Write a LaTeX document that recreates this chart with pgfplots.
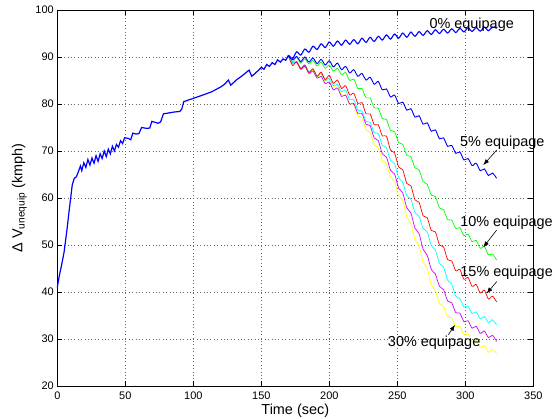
\documentclass[border=0pt]{standalone}
\usepackage{fontspec}
\setmainfont{Liberation Sans}
\usepackage{pgfplots}
\pgfplotsset{compat=1.18}
\usetikzlibrary{arrows.meta}
\definecolor{mblue}{rgb}{0,0,1}
\definecolor{mgreen}{rgb}{0,1,0}
\definecolor{mred}{rgb}{1,0,0}
\definecolor{mcyan}{rgb}{0,1,1}
\definecolor{mmag}{rgb}{0.8,0,1}
\definecolor{myel}{rgb}{1,1,0}
\begin{document}
\begin{tikzpicture}
\useasboundingbox (-57.3bp,-33bp) rectangle (497.7bp,386bp);
\begin{axis}[
  scale only axis, width=476bp, height=376bp,
  xmin=0, xmax=350, ymin=20, ymax=100,
  xtick={0,50,...,350}, ytick={20,30,...,100},
  grid=major,
  major grid style={black!60, line width=0.5bp, dash pattern=on 0.8bp off 2.6bp},
  tick align=inside, major tick length=5bp,
  tick style={black, line width=0.6bp},
  axis line style={black, line width=1bp},
  /pgf/number format/assume math mode=true,
  ticklabel style={font=\fontsize{11}{13}\selectfont},
  xticklabel style={yshift=-2bp},
  xlabel={Time (sec)}, 
  ylabel={Δ V\textsubscript{unequip} (kmph)},
  label style={font=\fontsize{14.5}{17}\selectfont},
  xlabel style={at={(axis description cs:0.5,-0.0771)}, anchor=base},
  ylabel style={at={(axis description cs:-0.0735,0.5)}, anchor=base},
  clip=false,
]
% 30%
\addplot[myel, line width=0.7bp, smooth, tension=0.45] coordinates {
(170,90.2) (173,88.6) (176,88.7) (179,87.3) (182,87.9) (185,86.5) (188,87.2) (191,85.8) (194,86.4) (197,84.8) (200,85.3) (203,83.6) (206,84.0) (209,81.9) (212,81.9) (215,79.8) (218,79.8) (221,77.4) (224,77.0) (227,74.5) (230,74.0) (233,71.3) (236,70.7) (239,68.0) (242,67.3) (245,64.4) (248,63.5) (251,60.5) (254,59.5) (257,56.0) (260,54.5) (263,51.1) (266,49.8) (269,46.4) (272,45.0) (275,41.6) (278,40.3) (281,37.6) (284,36.9) (287,34.7) (290,34.5) (293,32.6) (296,32.7) (299,30.9) (302,31.1) (305,29.4) (308,29.7) (311,28.2) (314,28.6) (317,27.2) (320,27.8) (323,26.9)
};
% 25%
\addplot[mmag, line width=0.7bp, smooth, tension=0.45] coordinates {
(170,90.2) (173,88.7) (176,88.9) (179,87.4) (182,88.0) (185,86.5) (188,87.0) (191,85.5) (194,85.9) (197,84.3) (200,84.7) (203,83.0) (206,83.4) (209,81.6) (212,81.9) (215,80.0) (218,80.1) (221,78.0) (224,78.0) (227,75.7) (230,75.4) (233,72.8) (236,72.2) (239,69.4) (242,68.7) (245,65.9) (248,65.1) (251,62.1) (254,61.1) (257,57.9) (260,56.8) (263,53.6) (266,52.4) (269,49.1) (272,47.8) (275,44.8) (278,43.8) (281,41.2) (284,40.5) (287,38.1) (290,37.7) (293,35.6) (296,35.5) (299,33.7) (302,33.9) (305,32.3) (308,32.7) (311,31.2) (314,31.7) (317,30.3) (320,30.8) (323,29.5)
};
% 20%
\addplot[mcyan, line width=0.7bp, smooth, tension=0.45] coordinates {
(170,90.2) (173,88.8) (176,89.1) (179,87.7) (182,88.3) (185,86.9) (188,87.4) (191,85.9) (194,86.5) (197,85.0) (200,85.5) (203,83.9) (206,84.2) (209,82.6) (212,83.0) (215,80.9) (218,80.9) (221,78.7) (224,78.5) (227,76.3) (230,76.1) (233,73.9) (236,73.7) (239,71.2) (242,70.7) (245,68.0) (248,67.3) (251,64.3) (254,63.3) (257,60.5) (260,59.7) (263,56.9) (266,56.1) (269,53.5) (272,52.8) (275,49.9) (278,48.9) (281,46.1) (284,45.3) (287,42.5) (290,41.7) (293,39.1) (296,38.6) (299,36.8) (302,37.0) (305,35.4) (308,35.8) (311,34.3) (314,34.8) (317,33.5) (320,34.1) (323,33.0)
};
% 15%
\addplot[mred, line width=0.7bp, smooth, tension=0.45] coordinates {
(170,90.2) (173,88.2) (176,89.0) (179,87.5) (182,88.3) (185,86.7) (188,87.5) (191,85.9) (194,86.8) (197,85.2) (200,86.1) (203,84.4) (206,85.1) (209,83.3) (212,83.9) (215,81.9) (218,82.3) (221,80.1) (224,80.3) (227,77.9) (230,77.9) (233,75.6) (236,75.6) (239,73.2) (242,73.2) (245,70.2) (248,69.6) (251,66.6) (254,66.0) (257,63.1) (260,62.6) (263,59.6) (266,59.1) (269,56.2) (272,55.8) (275,53.1) (278,52.8) (281,50.0) (284,49.6) (287,46.9) (290,46.6) (293,44.5) (296,44.8) (299,42.7) (302,43.1) (305,41.2) (308,41.6) (311,39.8) (314,40.4) (317,38.5) (320,39.1) (323,37.9)
};
% 10%
\addplot[mgreen, line width=0.7bp, smooth, tension=0.45] coordinates {
(170,90.2) (173,89.0) (176,89.9) (179,88.7) (182,89.6) (185,88.5) (188,89.3) (191,88.1) (194,88.9) (197,87.6) (200,88.3) (203,87.0) (206,87.6) (209,86.2) (212,86.7) (215,85.0) (218,85.3) (221,83.3) (224,83.3) (227,81.3) (230,81.3) (233,79.2) (236,79.1) (239,76.9) (242,76.7) (245,74.4) (248,74.1) (251,71.8) (254,71.4) (257,69.1) (260,68.8) (263,66.4) (266,66.0) (269,63.5) (272,62.9) (275,60.6) (278,60.3) (281,57.9) (284,57.5) (287,55.4) (290,55.3) (293,53.5) (296,53.7) (299,52.0) (302,52.3) (305,50.7) (308,51.0) (311,49.3) (314,49.7) (317,47.9) (320,48.1) (323,46.8)
};
% 5%
\addplot[mblue, line width=0.9bp, smooth, tension=0.45] coordinates {
(170,90.2) (173,89.4) (176,90.1) (179,89.0) (182,90.0) (185,88.9) (188,89.8) (191,88.6) (194,89.5) (197,88.3) (200,89.2) (203,87.9) (206,88.7) (209,87.3) (212,88.0) (215,86.6) (218,87.3) (221,85.9) (224,86.5) (227,85.1) (230,85.7) (233,84.2) (236,84.8) (239,83.0) (242,83.2) (245,81.5) (248,81.9) (251,80.1) (254,80.4) (257,78.7) (260,79.0) (263,77.2) (266,77.5) (269,75.7) (272,76.0) (275,74.2) (278,74.5) (281,72.6) (284,72.8) (287,71.0) (290,71.2) (293,69.5) (296,69.8) (299,68.1) (302,68.4) (305,66.9) (308,67.4) (311,65.8) (314,66.2) (317,64.8) (320,65.3) (323,64.2)
};
% common part (shared by all runs)
\addplot[mblue, line width=1.2bp] coordinates {
(0,41.0) (1.5,43.5) (3,45.5) (5,48.5) (7,53) (9,58) (11,62.8) (12.5,64.2) (14,64.5) (15.5,65.6) (17,66.8) (18,65.8) (19.5,67.5) (21,66.5) (22.5,68.2) (24,67.0) (25.5,68.5) (27,67.4) (28.5,69.0) (30,67.8) (31.5,69.4) (33,68.4) (34.5,70.0) (36,68.8) (37.5,70.4) (39,69.4) (40.5,71.0) (42,70.0) (43.5,71.4) (45,70.8) (46.5,72.2) (48,71.6) (49.5,72.8) (52,72.7) (54,72.4) (55.5,73.8) (58,73.6) (60,73.7) (62,75.0) (66,74.8) (68,74.9) (69.5,76.3) (72,76.1) (74,75.9) (76,76.2) (78,77.9) (82,78.1) (86,78.3) (90,78.4) (91.5,78.9) (93,80.5) (100,81.2) (106,81.8) (113.5,82.6) (120,83.6) (123,84.2) (125.8,85.1) (127.5,84.0) (129,84.4) (132,85.2) (135,85.8) (138,86.5) (141,87.2) (143,85.9) (145,86.4) (148,87.2) (150,87.8) (152,87.4) (154,88.4) (156,88.0) (158,88.8) (160,88.4) (162,89.4) (164,88.9) (166,89.6) (168,89.3) (170,90.4)
};
% 0%
\addplot[mblue, line width=1.1bp, smooth, tension=0.45] coordinates {
(170,90.4) (173,89.7) (176,91.1) (179,90.4) (182,91.7) (185,91.0) (188,92.3) (191,91.6) (194,92.8) (197,92.0) (200,93.2) (203,92.3) (206,93.4) (209,92.5) (212,93.6) (215,92.7) (218,93.7) (221,92.8) (224,94.0) (227,93.1) (230,94.2) (233,93.3) (236,94.4) (239,93.6) (242,94.7) (245,93.8) (248,94.9) (251,94.0) (254,95.1) (257,94.2) (260,95.3) (263,94.4) (266,95.4) (269,94.6) (272,95.6) (275,94.8) (278,95.8) (281,95.0) (284,95.9) (287,95.1) (290,96.0) (293,95.2) (296,96.1) (299,95.35) (302,96.2) (305,95.45) (308,96.25) (311,95.5) (314,96.35) (317,95.6) (320,96.4) (323,96.1)
};
% annotations
\node[font=\fontsize{14.5}{17}\selectfont] at (axis cs:304.7,96.8) {0\% equipage};
\node[font=\fontsize{14.5}{17}\selectfont] at (axis cs:327.2,71.8) {5\% equipage};
\node[font=\fontsize{14.5}{17}\selectfont] at (axis cs:330.3,54.8) {10\% equipage};
\node[font=\fontsize{14.5}{17}\selectfont] at (axis cs:330.4,44.0) {15\% equipage};
\node[font=\fontsize{14.5}{17}\selectfont] at (axis cs:277.1,29.1) {30\% equipage};
\draw[black, line width=0.6bp, -{Latex[length=6bp,width=4.5bp]}] (axis cs:323.1,70.2) -- (axis cs:313.2,67.0);
\draw[black, line width=0.6bp, -{Latex[length=6bp,width=4.5bp]}] (axis cs:323.1,53.2) -- (axis cs:313.2,49.5);
\draw[black, line width=0.6bp, -{Latex[length=6bp,width=4.5bp]}] (axis cs:323.1,42.2) -- (axis cs:315.7,39.7);
\draw[black, line width=0.6bp, -{Latex[length=6bp,width=4.5bp]}] (axis cs:287.5,30.9) -- (axis cs:292.4,33.0);
\end{axis}
\end{tikzpicture}
\end{document}
